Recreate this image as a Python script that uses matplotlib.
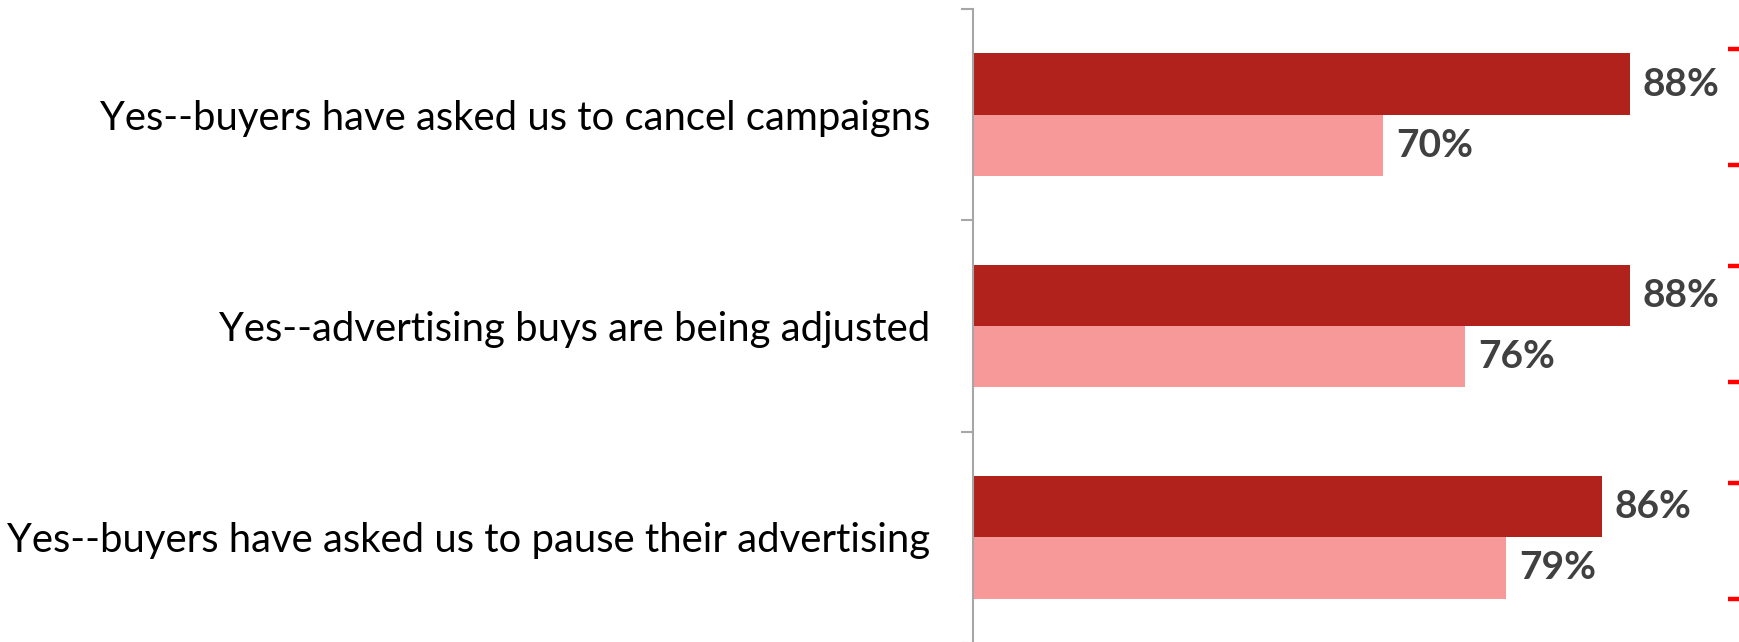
import matplotlib
matplotlib.use("Agg")
import matplotlib.pyplot as plt
import numpy as np

# Survey responses (top to bottom)
categories = [
    "Yes--buyers have asked us to cancel campaigns",
    "Yes--advertising buys are being adjusted",
    "Yes--buyers have asked us to pause their advertising",
]
series_dark = [88, 88, 86]
series_light = [70, 76, 79]

DARK = "#B0221B"
LIGHT = "#F79999"
LABEL_GRAY = "#404040"
AXIS_GRAY = "#A6A6A6"

W, H = 1739, 642
fig = plt.figure(figsize=(W / 100, H / 100), dpi=100)
ax = fig.add_axes([973 / W, -1 / H, (W - 973) / W, 634 / H])

y = np.arange(len(categories))
bar_h = 0.29

bars_dark = ax.barh(y - bar_h / 2, series_dark, height=bar_h, color=DARK, left=0)
bars_light = ax.barh(y + bar_h / 2, series_light, height=bar_h, color=LIGHT, left=0)

ax.set_xlim(40, 96)
ax.set_ylim(len(categories) - 0.5, -0.5)

for bars, vals in ((bars_dark, series_dark), (bars_light, series_light)):
    for b, v in zip(bars, vals):
        ax.annotate(f"{v}%", xy=(v, b.get_y() + b.get_height() / 2),
                    xytext=(9, 0), textcoords="offset points",
                    ha="left", va="center", fontsize=28, fontweight="bold",
                    family="Lato", color=LABEL_GRAY)

# Category boundary ticks on the left axis, labels centred between them
ax.set_yticks(np.arange(-0.5, len(categories)), labels=[])
ax.set_yticks(y, labels=categories, minor=True)
ax.tick_params(axis="y", which="major", direction="out", length=8.5,
               width=1.5, color=AXIS_GRAY)
ax.tick_params(axis="y", which="minor", length=0, pad=31, labelsize=28.8,
               labelcolor="black")
for lbl in ax.get_yticklabels(minor=True):
    lbl.set_family("Lato")

ax.xaxis.set_visible(False)
for side in ("top", "right", "bottom"):
    ax.spines[side].set_visible(False)
ax.spines["left"].set_color(AXIS_GRAY)
ax.spines["left"].set_linewidth(1.5)

# Secondary axis on the right with red tick marks
ax2 = ax.twinx()
ax2.set_ylim(2.47, -0.452)
pair_pos = []
for j in range(len(categories)):
    pair_pos += [j - 0.267, j + 0.267]
ax2.set_yticks(pair_pos, labels=[])
ax2.tick_params(axis="y", direction="in", length=8, width=3.2,
                color="#FF0000", right=True, left=False)
for s in ax2.spines.values():
    s.set_visible(False)

fig.savefig("out.png", dpi=100, facecolor="white")
